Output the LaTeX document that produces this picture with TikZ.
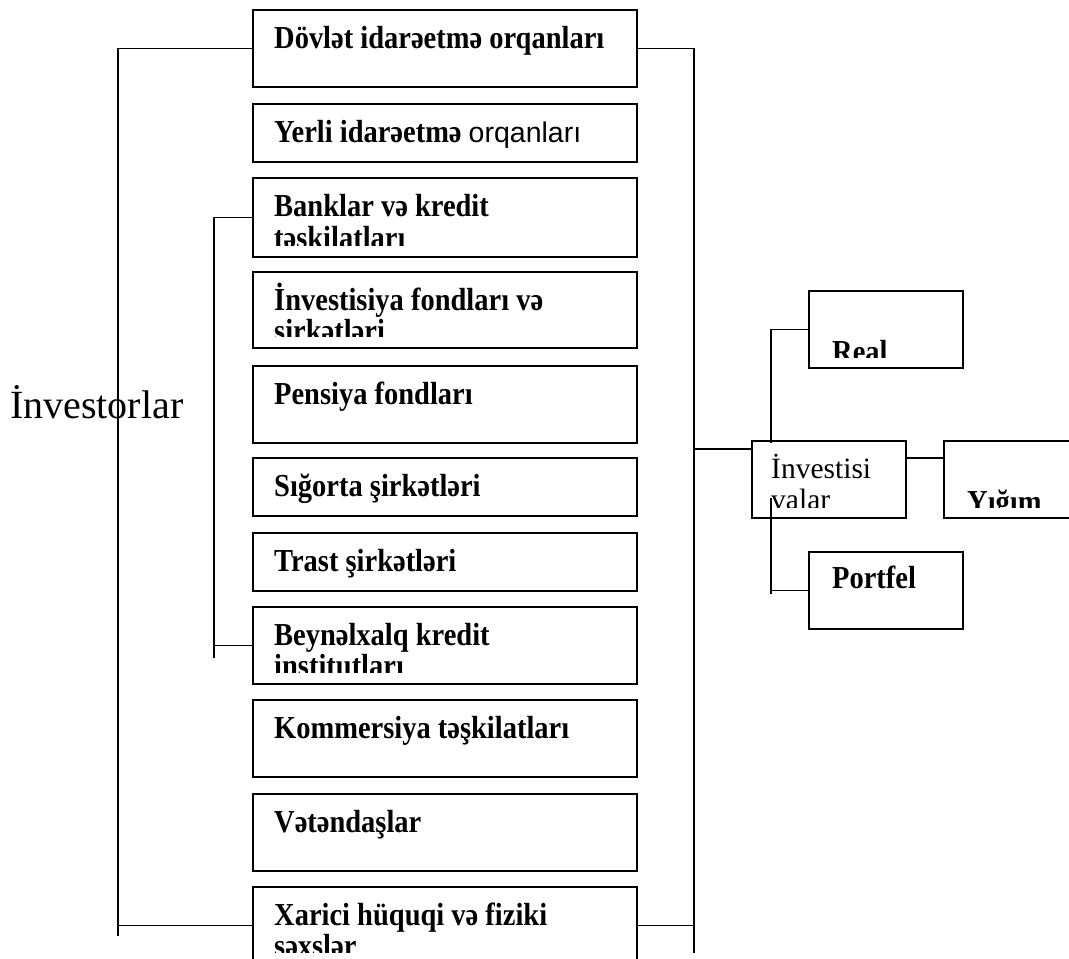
\documentclass[tikz,border=0pt]{standalone}
\usepackage{fontspec}
\setmainfont{Liberation Serif}
\newfontfamily\sansf{Liberation Sans}
\newfontfamily\bfnt[FakeStretch=0.89]{Liberation Serif}
\usetikzlibrary{calc}
\begin{document}
\begin{tikzpicture}[x=1pt,y=-1pt,
  box/.style={draw, line width=1.6pt, anchor=north west, inner sep=0pt, outer sep=0pt},
  lbl/.style={anchor=base west, inner sep=0pt, font=\fontsize{32}{33}\selectfont\bfnt\bfseries},
  reg/.style={anchor=base west, inner sep=0pt, font=\fontsize{29.5}{31}\selectfont},
  conn/.style={line width=1.2pt}]
\useasboundingbox (0,0) rectangle (1069,959);
\clip (0,0) rectangle (1069,959);
\fill[white] (0,0) rectangle (1069,959);
% left column boxes
\node[box, minimum width=384pt, minimum height=77pt] (b1) at (253,10) {};
\node[box, minimum width=384pt, minimum height=58pt] (b2) at (253,104) {};
\node[box, minimum width=384pt, minimum height=79pt] (b3) at (253,178) {};
\node[box, minimum width=384pt, minimum height=76pt] (b4) at (253,272) {};
\node[box, minimum width=384pt, minimum height=77pt] (b5) at (253,366) {};
\node[box, minimum width=384pt, minimum height=58pt] (b6) at (253,458) {};
\node[box, minimum width=384pt, minimum height=58pt] (b7) at (253,533) {};
\node[box, minimum width=384pt, minimum height=77pt] (b8) at (253,607) {};
\node[box, minimum width=384pt, minimum height=77pt] (b9) at (253,700) {};
\node[box, minimum width=384pt, minimum height=77pt] (b10) at (253,794) {};
\node[box, minimum width=384pt, minimum height=77pt] (b11) at (253,887) {};
% right boxes
\node[box, minimum width=154pt, minimum height=77pt] (real) at (809,291) {};
\node[box, minimum width=154pt, minimum height=77pt] (inv) at (752,441) {};
\node[box, minimum width=154pt, minimum height=77pt] (yig) at (944,441) {};
\node[box, minimum width=154pt, minimum height=77pt] (port) at (809,552) {};
% texts
\node[reg, font=\fontsize{40}{42}\selectfont] (invr) at (10,418) {İnvestorlar};
\node[lbl] (t1) at (274,48) {Dövlət idarəetmə orqanları};
\node[lbl] (t2) at (274,142) {Yerli idarəetmə {\sansf\mdseries\fontsize{28.5}{30}\selectfont orqanları}};
\node[lbl] (t3a) at (274,216) {Banklar və kredit};
\begin{scope}
\clip (b3.north west) rectangle ($(b3.south east)+(0,-12)$);
\node[lbl] (t3b) at (274,248) {təşkilatları};
\end{scope}
\node[lbl] (t4a) at (274,310) {İnvestisiya fondları və};
\begin{scope}
\clip (b4.north west) rectangle ($(b4.south east)+(0,-12)$);
\node[lbl] (t4b) at (274,341) {şirkətləri};
\end{scope}
\node[lbl] (t5) at (274,404) {Pensiya fondları};
\node[lbl] (t6) at (274,496) {Sığorta şirkətləri};
\node[lbl] (t7) at (274,571) {Trast şirkətləri};
\node[lbl] (t8a) at (274,645) {Beynəlxalq kredit};
\begin{scope}
\clip (b8.north west) rectangle ($(b8.south east)+(0,-12)$);
\node[lbl] (t8b) at (274,676) {institutları};
\end{scope}
\node[lbl] (t9) at (274,738) {Kommersiya təşkilatları};
\node[lbl] (t10) at (274,832) {Vətəndaşlar};
\node[lbl] (t11a) at (274,925) {Xarici hüquqi və fiziki};
\begin{scope}
\clip (b11.north west) rectangle ($(b11.south east)+(0,-12)$);
\node[lbl] (t11b) at (274,956) {şəxslər};
\end{scope}
\begin{scope}
\clip (real.north west) rectangle ($(real.south east)+(0,-11)$);
\node[lbl] (treal) at (832,362) {Real};
\end{scope}
\node[lbl] (tport) at (832,588) {Portfel};
\begin{scope}
\clip (yig.north west) rectangle ($(yig.south east)+(0,-11)$);
\node[lbl] (tyig) at (967,512) {Yığım};
\end{scope}
\node[reg] (tinva) at (771,478) {İnvestisi};
\begin{scope}
\clip (inv.north west) rectangle ($(inv.south east)+(0,-11)$);
\node[reg] (tinvb) at (771,509) {valar};
\end{scope}
% connectors
\coordinate (L) at (118,0);
\coordinate (I) at (214,0);
\coordinate (R) at (694,0);
\coordinate (S) at (771,0);
\draw[conn] (b1.west) -- (b1.west -| L) -- ($(b11.west -| L)+(0,10)$);
\draw[conn] (b11.west -| L) -- (b11.west);
\draw[conn] (b3.west) -- (b3.west -| I) -- ($(b8.west -| I)+(0,12)$);
\draw[conn] (b8.west -| I) -- (b8.west);
\draw[conn] (b1.east) -- (b1.east -| R) -- ($(b11.east -| R)+(0,27)$);
\draw[conn] (b11.east) -- (b11.east -| R);
\draw[conn] ($(inv.north west -| R)+(0,8)$) -- ($(inv.north west)+(0,8)$);
\draw[conn] ($(inv.north east)+(0,17)$) -- ($(yig.north west)+(0,17)$);
\draw[conn] (real.west) -- (real.west -| S) -- ($(inv.north west -| S)+(0,2)$);
\draw[conn] ($(inv.north west -| S)+(0,57)$) -- ($(port.west -| S)+(0,3)$);
\draw[conn] (port.west -| S) -- (port.west);
\end{tikzpicture}
\end{document}
